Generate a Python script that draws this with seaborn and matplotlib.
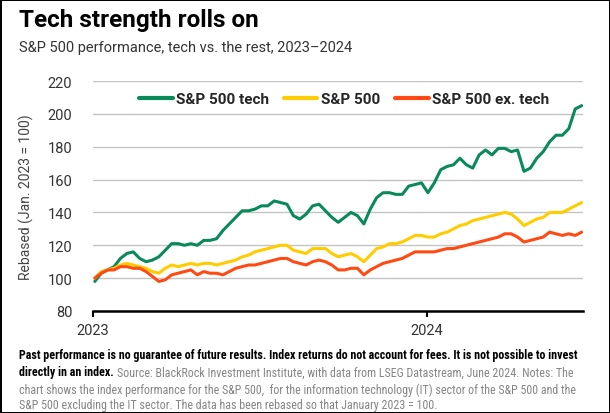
import matplotlib
matplotlib.use("Agg")
import matplotlib.pyplot as plt
from matplotlib import font_manager
import seaborn as sns
import pandas as pd

# weekly readings (Jan 2023 = 100)
dates = pd.date_range("2023-01-03", periods=77, freq="7D")

tech = [98, 103, 105, 107, 112, 115, 116, 112, 110, 111, 113, 117, 121, 121, 120, 121,
        120, 123, 123, 124, 129, 133, 137, 141, 141, 142, 144, 144, 147, 146, 145, 138,
        136, 139, 144, 145, 141, 137, 134, 137, 140, 138, 133, 142, 149, 152, 152, 151,
        151, 156, 157, 158, 152, 158, 166, 168, 169, 173, 169, 167, 175, 178, 175, 179,
        179, 177, 178, 165, 167, 173, 177, 183, 187, 187, 191, 203, 205]

sp500 = [100, 104, 105, 106, 108, 109, 108, 107, 106, 104, 103, 106, 108, 107, 108, 109,
         108, 109, 109, 108, 109, 110, 111, 113, 114, 116, 117, 118, 119, 120, 120, 117,
         116, 115, 118, 118, 118, 115, 113, 114, 115, 113, 110, 114, 118, 119, 121, 121,
         122, 124, 126, 126, 125, 125, 127, 128, 130, 132, 133, 135, 136, 137, 138, 139,
         140, 139, 136, 132, 134, 136, 137, 140, 140, 140, 142, 144, 146]

ex_tech = [100, 103, 105, 105, 107, 107, 106, 106, 104, 101, 98, 99, 102, 103, 104, 105,
           102, 104, 103, 103, 102, 104, 106, 107, 108, 108, 109, 110, 111, 112, 112, 110,
           109, 108, 110, 111, 110, 108, 105, 105, 106, 106, 102, 105, 107, 109, 110, 111,
           112, 114, 116, 116, 116, 116, 117, 118, 118, 119, 120, 121, 122, 123, 124, 125,
           127, 127, 125, 122, 123, 124, 125, 128, 127, 126, 127, 126, 128]

series_names = ["S&P 500 tech", "S&P 500", "S&P 500 ex. tech"]
colors = ["#0a8a5a", "#ffcc00", "#ff4a14"]
y_ticks = [80, 100, 120, 140, 160, 180, 200, 220]
x_ticks = ["2023-01-01", "2024-01-01"]
x_labels = ["2023", "2024"]

df = pd.DataFrame({
    "date": list(dates) * 3,
    "value": tech + sp500 + ex_tech,
    "series": [s for s in series_names for _ in dates],
})

sns.set_theme(style="white")
plt.rcParams["font.family"] = ["Roboto", "DejaVu Sans"]

fig = plt.figure(figsize=(6.1, 4.14), dpi=100, linewidth=2, edgecolor="black")
ax = fig.add_axes([93 / 610, 1 - 312 / 414, 490 / 610, 230 / 414])

sns.lineplot(data=df, x="date", y="value", hue="series", hue_order=series_names,
             palette=dict(zip(series_names, colors)), linewidth=2.2, ax=ax)

ax.set_ylim(80, 220)
ax.set_yticks(y_ticks)
ax.set_xlim(pd.Timestamp("2023-01-01"), pd.Timestamp("2024-06-19 12:00"))
ax.set_xticks([pd.Timestamp(t) for t in x_ticks])
ax.set_xticklabels(x_labels)
ax.grid(axis="y", color="#c4c4c4", linewidth=1)
ax.set_axisbelow(True)
for s in ["left", "right", "top"]:
    ax.spines[s].set_visible(False)
ax.spines["bottom"].set_color("black")
ax.spines["bottom"].set_linewidth(1.8)
ax.tick_params(axis="y", length=0, pad=15, labelsize=10.5, labelcolor="#333333")
ax.tick_params(axis="x", length=4, width=1.5, color="black", pad=5,
               labelsize=10.5, labelcolor="#333333", bottom=True)
ax.set_xlabel("")
ax.set_ylabel("Rebased (Jan. 2023 = 100)", fontsize=10, color="#444444", labelpad=10)

handles, labels = ax.get_legend_handles_labels()
leg = ax.legend(handles, labels, loc="center", bbox_to_anchor=(0.512, 0.92), ncol=3,
                frameon=False, handlelength=2.2, handletextpad=0.2, columnspacing=1.0,
                prop={"weight": "bold", "size": 11})
for line in leg.get_lines():
    line.set_linewidth(3)

fig.text(19 / 610, 1 - 20 / 414, "Tech strength rolls on", fontsize=17.5,
         weight="bold", va="center", color="black")
fig.text(19 / 610, 1 - 48 / 414, "S&P 500 performance, tech vs. the rest, 2023\u20132024",
         fontsize=10.5, va="center", color="#333333")

# footer, condensed font if one is installed
names = {f.name for f in font_manager.fontManager.ttflist}
foot_font = "DejaVu Sans"
for cand in ["Liberation Sans Narrow", "Roboto Condensed", "Open Sans Condensed"]:
    if cand in names:
        foot_font = cand
        break

foot_lines = [
    "Past performance is no guarantee of future results. Index returns do not account for fees. It is not possible to invest",
    "directly in an index.",
    "Source: BlackRock Investment Institute, with data from LSEG Datastream, June 2024. Notes: The",
    "chart shows the index performance for the S&P 500,  for the information technology (IT) sector of the S&P 500 and the",
    "S&P 500 excluding the IT sector. The data has been rebased so that January 2023 = 100.",
]
x0 = 19 / 610
size = 8
t1 = fig.text(x0, 1 - 356 / 414, foot_lines[0], fontsize=size, weight="bold",
              family=foot_font, va="center", color="black")
fig.canvas.draw()
r = fig.canvas.get_renderer()
scale = (580 - 19) / t1.get_window_extent(r).width
size = size * scale
t1.set_fontsize(size)
t2 = fig.text(x0, 1 - 373 / 414, foot_lines[1], fontsize=size, weight="bold",
              family=foot_font, va="center", color="black")
fig.canvas.draw()
bb = t2.get_window_extent(r)
fig.text((bb.x1 + 3) / 610, 1 - 373 / 414, foot_lines[2], fontsize=size,
         family=foot_font, va="center", color="#858585")
fig.text(x0, 1 - 390 / 414, foot_lines[3], fontsize=size, family=foot_font,
         va="center", color="#858585")
fig.text(x0, 1 - 406 / 414, foot_lines[4], fontsize=size, family=foot_font,
         va="center", color="#858585")

fig.savefig("out.png", dpi=100)
